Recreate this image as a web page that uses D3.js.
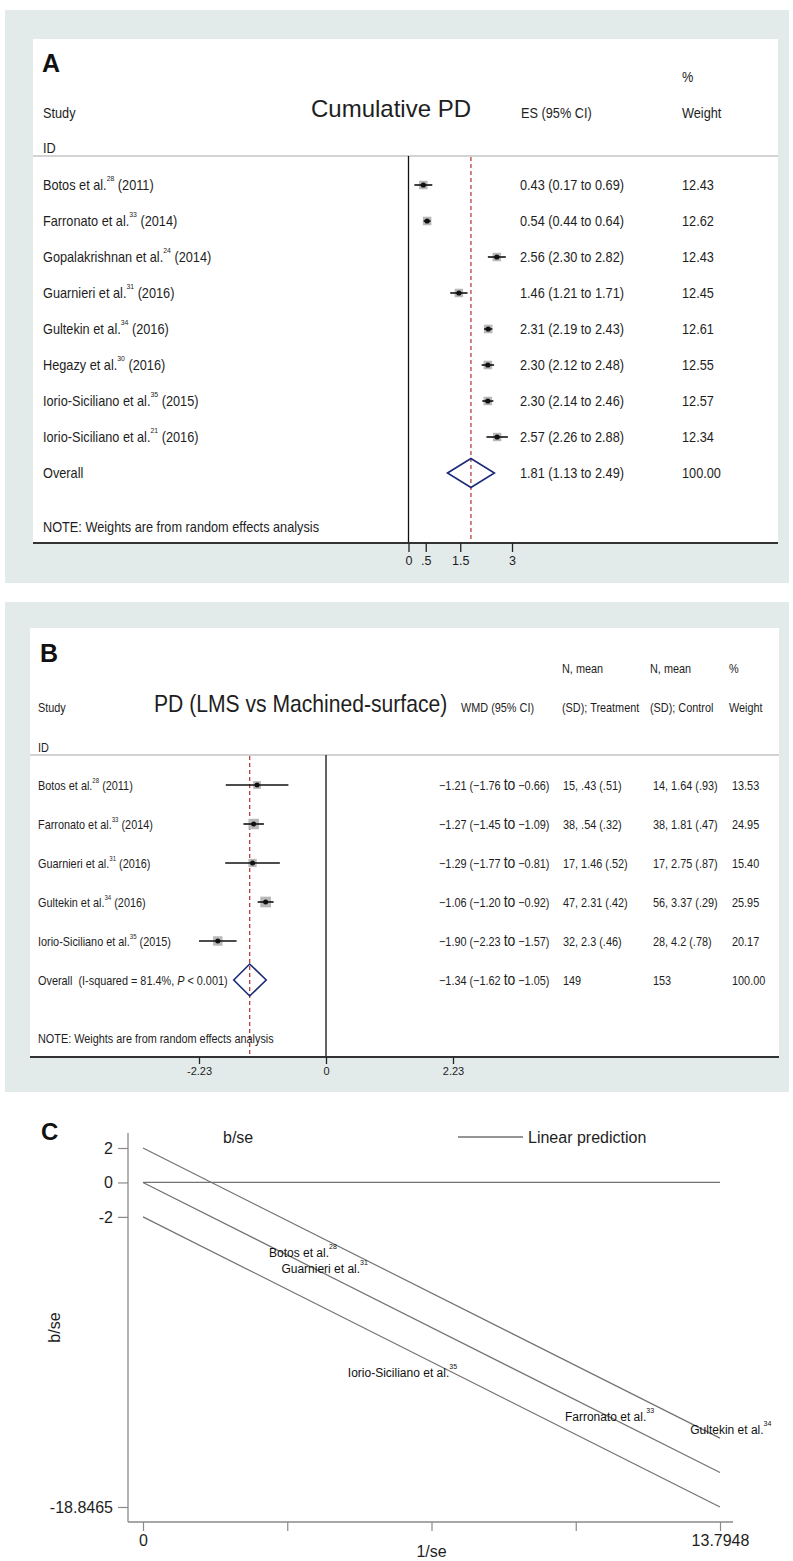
<!DOCTYPE html>
<html>
<head>
<meta charset="utf-8">
<script src="https://cdn.jsdelivr.net/npm/d3@7"></script>
<style>
  html, body { margin: 0; padding: 0; background: #ffffff; }
  svg { display: block; }
  svg text { white-space: pre; }
</style>
</head>
<body>
<svg id="fig" width="793" height="1561"></svg>
<script>
// ---------- Panel A: cumulative probing depth ----------
const studiesA = ["Botos et al.", "Farronato et al.", "Gopalakrishnan et al.", "Guarnieri et al.",
                  "Gultekin et al.", "Hegazy et al.", "Iorio-Siciliano et al.", "Iorio-Siciliano et al."];
const refsA   = ["28", "33", "24", "31", "34", "30", "35", "21"];
const yearsA  = ["2011", "2014", "2014", "2016", "2016", "2016", "2015", "2016"];
const esA     = [0.43, 0.54, 2.56, 1.46, 2.31, 2.30, 2.30, 2.57];
const loA     = [0.17, 0.44, 2.30, 1.21, 2.19, 2.12, 2.14, 2.26];
const hiA     = [0.69, 0.64, 2.82, 1.71, 2.43, 2.48, 2.46, 2.88];
const weightA = [12.43, 12.62, 12.43, 12.45, 12.61, 12.55, 12.57, 12.34];
const overallA = [1.81, 1.13, 2.49];          // ES, lower, upper
const overallWeightA = 100.00;
const ticksA = [0, 0.5, 1.5, 3];
const tickLabelsA = ["0", ".5", "1.5", "3"];

// ---------- Panel B: PD, LMS vs machined surface ----------
const studiesB = ["Botos et al.", "Farronato et al.", "Guarnieri et al.", "Gultekin et al.", "Iorio-Siciliano et al."];
const refsB    = ["28", "33", "31", "34", "35"];
const yearsB   = ["2011", "2014", "2016", "2016", "2015"];
const wmdB     = [-1.21, -1.27, -1.29, -1.06, -1.90];
const loB      = [-1.76, -1.45, -1.77, -1.20, -2.23];
const hiB      = [-0.66, -1.09, -0.81, -0.92, -1.57];
const treatB   = ["15, .43 (.51)", "38, .54 (.32)", "17, 1.46 (.52)", "47, 2.31 (.42)", "32, 2.3 (.46)"];
const controlB = ["14, 1.64 (.93)", "38, 1.81 (.47)", "17, 2.75 (.87)", "56, 3.37 (.29)", "28, 4.2 (.78)"];
const weightB  = [13.53, 24.95, 15.40, 25.95, 20.17];
const overallB = [-1.34, -1.62, -1.05];       // WMD, lower, upper
const overallNB = [149, 153];                  // treatment, control
const overallWeightB = 100.00;
const iSquaredB = "81.4%";
const pValueB = "0.001";
const ticksB = [-2.23, 0, 2.23];
const tickLabelsB = ["-2.23", "0", "2.23"];

// ---------- Panel C: Galbraith plot ----------
const studiesC = ["Botos et al.", "Guarnieri et al.", "Iorio-Siciliano et al.", "Farronato et al.", "Gultekin et al."];
const refsC    = ["28", "31", "35", "33", "34"];
const invSeC   = [3.56, 4.08, 5.94, 10.89, 13.79];       // 1/se
const bSeC     = [-4.31, -5.27, -11.28, -13.83, -14.62];  // b/se
const slopeC   = -1.2212;                                 // linear prediction slope
const bandsC   = [2, 0, -2];                              // intercepts of the three lines
const xMaxC    = 13.7948;
const yMinC    = -18.8465;
const yTicksC  = [2, 0, -2, -18.8465];
const yTickLabelsC = ["2", "0", "-2", "-18.8465"];
const xTicksC  = [0, 3.4487, 6.8974, 10.3461, 13.7948];
const xTickLabelsC = ["0", "", "", "", "13.7948"];

// ---------- helpers ----------
const FONT = "'Liberation Sans', Arial, Helvetica, sans-serif";
const INK = "#1e1e1e";
const PANEL_BG = "#e2eaea";
const svg = d3.select("#fig");

// text at a baseline point, optionally condensed horizontally; content may be a list of tspans
function txt(parent, x, y, content, o = {}) {
  const sx = o.sx ?? 1;
  const t = parent.append("text")
    .attr("transform", `translate(${x},${y}) scale(${sx},1)`)
    .attr("font-family", o.family ?? FONT)
    .attr("font-size", o.size ?? 12)
    .attr("font-weight", o.weight ?? "normal")
    .attr("text-anchor", o.anchor ?? "start")
    .attr("fill", o.fill ?? INK);
  if (typeof content === "string") {
    t.text(content);
  } else {
    content.forEach(p => {
      const s = t.append("tspan").text(p.t);
      if (p.size) s.attr("font-size", p.size);
      if (p.dy) s.attr("dy", p.dy);
      if (p.italic) s.attr("font-style", "italic");
    });
  }
  return t;
}

function studyLabel(parent, x, y, name, ref, year, size, supSize, rise, sx) {
  return txt(parent, x, y, [
    { t: name },
    { t: ref, size: supSize, dy: -rise },
    { t: ` (${year})`, size: size, dy: rise }
  ], { size, sx });
}

const diamond = (x, y, lo, mid, hi, h) =>
  `M${x(lo)},${y} L${x(mid)},${y - h} L${x(hi)},${y} L${x(mid)},${y + h} Z`;

// ======================= PANEL A =======================
const gA = svg.append("g");
gA.append("rect").attr("x", 5).attr("y", 10).attr("width", 784).attr("height", 573).attr("fill", PANEL_BG);
gA.append("rect").attr("x", 33).attr("y", 39).attr("width", 745).attr("height", 504).attr("fill", "#ffffff");

const TS_A = 14.8, SX_A = 0.86;
const xA = d3.scaleLinear().domain([0, 3]).range([408.5, 512]);
const yA = d3.scaleLinear().domain([0, studiesA.length]).range([185, 473]);

// header
txt(gA, 42, 72, "A", { size: 25, weight: "bold", fill: "#111" });
txt(gA, 682, 82, "%", { size: TS_A, sx: SX_A });
txt(gA, 43, 118, "Study", { size: TS_A, sx: SX_A });
txt(gA, 311, 117, "Cumulative PD", { size: 24 });
txt(gA, 521, 118, "ES (95% CI)", { size: TS_A, sx: SX_A });
txt(gA, 682, 118, "Weight", { size: TS_A, sx: SX_A });
txt(gA, 43, 153, "ID", { size: TS_A, sx: SX_A });
gA.append("line").attr("x1", 33).attr("x2", 778).attr("y1", 156).attr("y2", 156)
  .attr("stroke", "#c4c4c4").attr("stroke-width", 1.5);

// reference lines
gA.append("line").attr("x1", xA(0)).attr("x2", xA(0)).attr("y1", 156).attr("y2", 543)
  .attr("stroke", "#111").attr("stroke-width", 1.3);
gA.append("line").attr("x1", xA(overallA[0])).attr("x2", xA(overallA[0])).attr("y1", 157).attr("y2", 543)
  .attr("stroke", "#b3302c").attr("stroke-width", 1.2).attr("stroke-dasharray", "4,3");

// study rows
const boxA = w => 2.4 * Math.sqrt(w);
const rowsA = gA.append("g").selectAll("g").data(esA).join("g");
rowsA.append("rect")
  .attr("x", (d, i) => xA(d) - boxA(weightA[i]) / 2)
  .attr("y", (d, i) => yA(i) - boxA(weightA[i]) / 2)
  .attr("width", (d, i) => boxA(weightA[i]))
  .attr("height", (d, i) => boxA(weightA[i]))
  .attr("fill", "#b8b8b8");
rowsA.append("line")
  .attr("x1", (d, i) => xA(loA[i])).attr("x2", (d, i) => xA(hiA[i]))
  .attr("y1", (d, i) => yA(i)).attr("y2", (d, i) => yA(i))
  .attr("stroke", "#111").attr("stroke-width", 1.6);
rowsA.append("circle")
  .attr("cx", d => xA(d)).attr("cy", (d, i) => yA(i)).attr("r", 2.6).attr("fill", "#111");

studiesA.forEach((s, i) => {
  const yb = yA(i) + 5;
  studyLabel(gA, 43, yb, s, refsA[i], yearsA[i], TS_A, 8, 9, SX_A);
  txt(gA, 520, yb, `${esA[i].toFixed(2)} (${loA[i].toFixed(2)} to ${hiA[i].toFixed(2)})`, { size: TS_A, sx: SX_A });
  txt(gA, 682, yb, weightA[i].toFixed(2), { size: TS_A, sx: SX_A });
});

// overall
const yOA = yA(studiesA.length);
gA.append("path").attr("d", diamond(xA, yOA, overallA[1], overallA[0], overallA[2], 14.5))
  .attr("fill", "none").attr("stroke", "#1b2a78").attr("stroke-width", 1.6);
txt(gA, 43, yOA + 5, "Overall", { size: TS_A, sx: SX_A });
txt(gA, 520, yOA + 5, `${overallA[0].toFixed(2)} (${overallA[1].toFixed(2)} to ${overallA[2].toFixed(2)})`, { size: TS_A, sx: SX_A });
txt(gA, 682, yOA + 5, overallWeightA.toFixed(2), { size: TS_A, sx: SX_A });
txt(gA, 43, 532, "NOTE: Weights are from random effects analysis", { size: TS_A, sx: SX_A });

// axis
gA.append("line").attr("x1", 33).attr("x2", 778).attr("y1", 543).attr("y2", 543)
  .attr("stroke", "#333").attr("stroke-width", 2);
const axA = gA.append("g").attr("transform", "translate(0,543)")
  .call(d3.axisBottom(xA).tickValues(ticksA).tickFormat((d, i) => tickLabelsA[i]).tickSize(9).tickPadding(4));
axA.select(".domain").remove();
axA.selectAll(".tick line").attr("stroke", "#222").attr("stroke-width", 1.3);
axA.selectAll(".tick text").attr("font-family", FONT).attr("font-size", 12.5).attr("fill", INK);

// ======================= PANEL B =======================
const gB = svg.append("g");
gB.append("rect").attr("x", 5).attr("y", 602).attr("width", 784).attr("height", 490).attr("fill", PANEL_BG);
gB.append("rect").attr("x", 30).attr("y", 628).attr("width", 749).attr("height", 429).attr("fill", "#ffffff");

const TS_B = 12.5, SX_B = 0.87;
const xB = d3.scaleLinear().domain([-2.23, 2.23]).range([199, 453]);
const yB = d3.scaleLinear().domain([0, studiesB.length]).range([785, 980]);

txt(gB, 40, 662, "B", { size: 25, weight: "bold", fill: "#111" });
txt(gB, 562, 673, "N, mean", { size: TS_B, sx: SX_B });
txt(gB, 650, 673, "N, mean", { size: TS_B, sx: SX_B });
txt(gB, 729, 673, "%", { size: TS_B, sx: SX_B });
txt(gB, 38, 712, "Study", { size: TS_B, sx: SX_B });
txt(gB, 154, 712, "PD (LMS vs Machined-surface)", { size: 24, sx: 0.88 });
txt(gB, 461, 712, "WMD (95% CI)", { size: TS_B, sx: SX_B });
txt(gB, 562, 712, "(SD); Treatment", { size: TS_B, sx: SX_B });
txt(gB, 650, 712, "(SD); Control", { size: TS_B, sx: SX_B });
txt(gB, 729, 712, "Weight", { size: TS_B, sx: SX_B });
txt(gB, 38, 752, "ID", { size: TS_B, sx: SX_B });
gB.append("line").attr("x1", 30).attr("x2", 779).attr("y1", 755).attr("y2", 755)
  .attr("stroke", "#c4c4c4").attr("stroke-width", 1.5);

gB.append("line").attr("x1", xB(0)).attr("x2", xB(0)).attr("y1", 755).attr("y2", 1057)
  .attr("stroke", "#111").attr("stroke-width", 1.3);
gB.append("line").attr("x1", xB(overallB[0])).attr("x2", xB(overallB[0])).attr("y1", 756).attr("y2", 1057)
  .attr("stroke", "#b3302c").attr("stroke-width", 1.2).attr("stroke-dasharray", "4,3");

const boxB = w => 2.1 * Math.sqrt(w);
const rowsB = gB.append("g").selectAll("g").data(wmdB).join("g");
rowsB.append("rect")
  .attr("x", (d, i) => xB(d) - boxB(weightB[i]) / 2)
  .attr("y", (d, i) => yB(i) - boxB(weightB[i]) / 2)
  .attr("width", (d, i) => boxB(weightB[i]))
  .attr("height", (d, i) => boxB(weightB[i]))
  .attr("fill", "#b8b8b8");
rowsB.append("line")
  .attr("x1", (d, i) => xB(loB[i])).attr("x2", (d, i) => xB(hiB[i]))
  .attr("y1", (d, i) => yB(i)).attr("y2", (d, i) => yB(i))
  .attr("stroke", "#111").attr("stroke-width", 1.6);
rowsB.append("circle")
  .attr("cx", d => xB(d)).attr("cy", (d, i) => yB(i)).attr("r", 2.5).attr("fill", "#111");

const fmtB = v => (v < 0 ? "\u2212" : "") + Math.abs(v).toFixed(2);
function wmdText(parent, x, y, m, lo, hi) {
  return txt(parent, x, y, [
    { t: `${fmtB(m)} (${fmtB(lo)} ` },
    { t: "to", size: 16 },
    { t: ` ${fmtB(hi)})`, size: TS_B }
  ], { size: TS_B, sx: SX_B });
}

studiesB.forEach((s, i) => {
  const yb = yB(i) + 4.5;
  studyLabel(gB, 38, yb, s, refsB[i], yearsB[i], TS_B, 7, 7, SX_B);
  wmdText(gB, 439, yb, wmdB[i], loB[i], hiB[i]);
  txt(gB, 563, yb, treatB[i], { size: TS_B, sx: SX_B });
  txt(gB, 653, yb, controlB[i], { size: TS_B, sx: SX_B });
  txt(gB, 732, yb, weightB[i].toFixed(2), { size: TS_B, sx: SX_B });
});

const yOB = yB(studiesB.length);
gB.append("path").attr("d", diamond(xB, yOB, overallB[1], overallB[0], overallB[2], 16))
  .attr("fill", "none").attr("stroke", "#1b2a78").attr("stroke-width", 1.6);
txt(gB, 38, yOB + 4.5, [
  { t: `Overall  (I-squared = ${iSquaredB}, ` },
  { t: "P", italic: true },
  { t: ` < ${pValueB})` }
], { size: TS_B, sx: SX_B });
wmdText(gB, 439, yOB + 4.5, overallB[0], overallB[1], overallB[2]);
txt(gB, 563, yOB + 4.5, String(overallNB[0]), { size: TS_B, sx: SX_B });
txt(gB, 653, yOB + 4.5, String(overallNB[1]), { size: TS_B, sx: SX_B });
txt(gB, 732, yOB + 4.5, overallWeightB.toFixed(2), { size: TS_B, sx: SX_B });
txt(gB, 38, 1043, "NOTE: Weights are from random effects analysis", { size: TS_B, sx: SX_B });

gB.append("line").attr("x1", 30).attr("x2", 779).attr("y1", 1057).attr("y2", 1057)
  .attr("stroke", "#333").attr("stroke-width", 2);
const axB = gB.append("g").attr("transform", "translate(0,1057)")
  .call(d3.axisBottom(xB).tickValues(ticksB).tickFormat((d, i) => tickLabelsB[i]).tickSize(7).tickPadding(3));
axB.select(".domain").remove();
axB.selectAll(".tick line").attr("stroke", "#222").attr("stroke-width", 1.3);
axB.selectAll(".tick text").attr("font-family", FONT).attr("font-size", 11).attr("fill", INK);

// ======================= PANEL C =======================
const gC = svg.append("g");
const xC = d3.scaleLinear().domain([0, xMaxC]).range([143, 720]);
const yC = d3.scaleLinear().domain([yTicksC[0], yMinC]).range([1148, 1507]);
const AXIS_C = "#8a8a8a", LINE_C = "#727272";

txt(gC, 41, 1140, "C", { size: 24, weight: "bold", fill: "#111" });

// axes
gC.append("line").attr("x1", 128).attr("x2", 128).attr("y1", 1133).attr("y2", 1522)
  .attr("stroke", AXIS_C).attr("stroke-width", 1.3);
gC.append("line").attr("x1", 128).attr("x2", 733).attr("y1", 1522).attr("y2", 1522)
  .attr("stroke", AXIS_C).attr("stroke-width", 1.3);

const ayC = gC.append("g").attr("transform", "translate(128,0)")
  .call(d3.axisLeft(yC).tickValues(yTicksC).tickFormat((d, i) => yTickLabelsC[i]).tickSize(10).tickPadding(5));
ayC.select(".domain").remove();
ayC.selectAll(".tick line").attr("stroke", AXIS_C).attr("stroke-width", 1.2);
ayC.selectAll(".tick text").attr("font-family", FONT).attr("font-size", 16).attr("fill", INK);

const axC = gC.append("g").attr("transform", "translate(0,1522)")
  .call(d3.axisBottom(xC).tickValues(xTicksC).tickFormat((d, i) => xTickLabelsC[i]).tickSize(9).tickPadding(4));
axC.select(".domain").remove();
axC.selectAll(".tick line").attr("stroke", AXIS_C).attr("stroke-width", 1.2);
axC.selectAll(".tick text").attr("font-family", FONT).attr("font-size", 16).attr("fill", INK);

txt(gC, (xC(0) + xC(xMaxC)) / 2, 1557, "1/se", { size: 16, anchor: "middle" });
gC.append("text")
  .attr("transform", `translate(60,${(1133 + 1522) / 2}) rotate(-90)`)
  .attr("text-anchor", "middle").attr("font-family", FONT).attr("font-size", 16).attr("fill", INK)
  .text("b/se");

// legend
txt(gC, 223, 1143, "b/se", { size: 16 });
gC.append("line").attr("x1", 458).attr("x2", 523).attr("y1", 1137).attr("y2", 1137)
  .attr("stroke", LINE_C).attr("stroke-width", 1.3);
txt(gC, 528, 1143, "Linear prediction", { size: 16 });

// zero reference line and linear prediction with +/-2 bands
gC.append("line").attr("x1", xC(0)).attr("x2", xC(xMaxC)).attr("y1", yC(0)).attr("y2", yC(0))
  .attr("stroke", LINE_C).attr("stroke-width", 1.2);
gC.append("g").selectAll("line").data(bandsC).join("line")
  .attr("x1", xC(0)).attr("y1", b => yC(b))
  .attr("x2", xC(xMaxC)).attr("y2", b => yC(b + slopeC * xMaxC))
  .attr("stroke", LINE_C).attr("stroke-width", 1.2);

// study labels centred near (1/se, b/se)
studiesC.forEach((s, i) => {
  txt(gC, xC(invSeC[i]) + 11, yC(bSeC[i]), [
    { t: s },
    { t: refsC[i], size: 7, dy: -8 }
  ], { size: 12, anchor: "middle", fill: "#111" });
});
</script>
</body>
</html>
